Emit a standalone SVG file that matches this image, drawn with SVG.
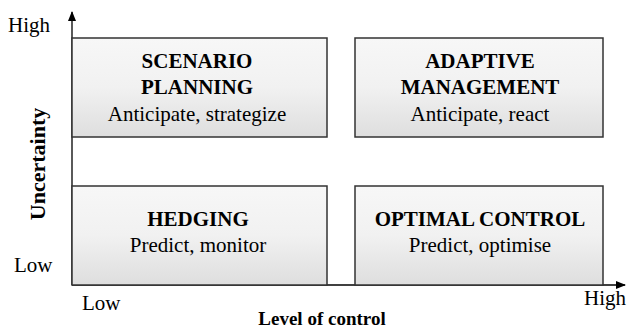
<svg xmlns="http://www.w3.org/2000/svg" width="627" height="330" viewBox="0 0 627 330">
<defs>
<linearGradient id="g" x1="0" y1="0" x2="0" y2="1">
<stop offset="0" stop-color="#f7f7f7"/>
<stop offset="0.5" stop-color="#f1f1f1"/>
<stop offset="1" stop-color="#dedede"/>
</linearGradient>
<marker id="ah" markerWidth="10" markerHeight="8" refX="9" refY="4" orient="auto" markerUnits="userSpaceOnUse">
<path d="M0,0 L10,4 L0,8 Z" fill="#000"/>
</marker>
<style>
.box{fill:url(#g);stroke:#333;stroke-width:1.5}
text{font-family:"Liberation Serif","Times New Roman",serif;fill:#000}
.b{font-weight:bold;font-size:21px}
.r{font-size:21px}
.ax{stroke:#000;stroke-width:1.3;fill:none}
</style>
</defs>
<g id="connectors">
<line class="ax" x1="72" y1="285" x2="72" y2="12" marker-end="url(#ah)"/>
<line class="ax" x1="72" y1="285" x2="625" y2="285" marker-end="url(#ah)"/>
</g>
<g id="scenario">
<rect class="box" x="72" y="38" width="255" height="99"/>
<text class="b" x="197" y="68" text-anchor="middle">SCENARIO</text>
<text class="b" x="197" y="94" text-anchor="middle">PLANNING</text>
<text class="r" x="197" y="121" text-anchor="middle">Anticipate, strategize</text>
</g>
<g id="adaptive">
<rect class="box" x="355" y="38" width="248" height="99"/>
<text class="b" x="480" y="68" text-anchor="middle">ADAPTIVE</text>
<text class="b" x="480" y="94" text-anchor="middle">MANAGEMENT</text>
<text class="r" x="480" y="121" text-anchor="middle">Anticipate, react</text>
</g>
<g id="hedging">
<rect class="box" x="72" y="186" width="255" height="99"/>
<text class="b" x="198" y="226" text-anchor="middle">HEDGING</text>
<text class="r" x="198" y="252" text-anchor="middle">Predict, monitor</text>
</g>
<g id="optimal">
<rect class="box" x="355" y="186" width="248" height="99"/>
<text class="b" x="480" y="226" text-anchor="middle">OPTIMAL CONTROL</text>
<text class="r" x="480" y="252" text-anchor="middle">Predict, optimise</text>
</g>
<g id="labels">
<text class="r" x="8" y="32">High</text>
<text class="r" x="14" y="272">Low</text>
<text class="r" x="82" y="310">Low</text>
<text class="r" x="584" y="305">High</text>
<text class="b" x="322" y="325" text-anchor="middle" style="font-size:19px">Level of control</text>
<text class="b" transform="translate(45,164) rotate(-90)" text-anchor="middle" style="font-size:22px">Uncertainty</text>
</g>
</svg>
